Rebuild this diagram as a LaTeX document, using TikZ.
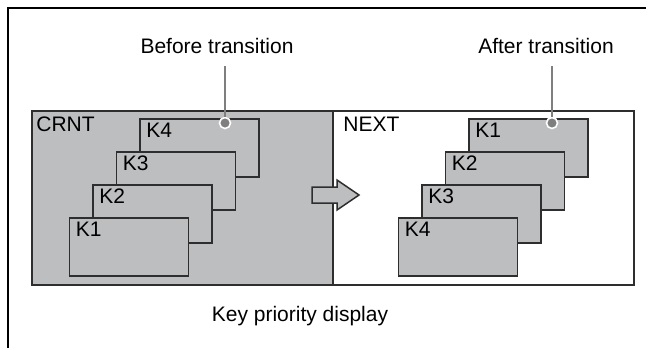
\documentclass[tikz,border=0pt]{standalone}
\usepackage{fontspec}
\setmainfont{Liberation Sans}
\definecolor{KeyGray}{HTML}{BDBEC0}
\definecolor{EdgeDark}{HTML}{2E2E2E}
\definecolor{LeadGray}{HTML}{7F7F7F}
\usetikzlibrary{positioning, arrows.meta, calc}

\begin{document}
\begin{tikzpicture}[
  x=0.5pt, y=-0.5pt,
  txt/.style={font=\fontsize{10.5pt}{12pt}\selectfont, inner sep=0pt},
  panel/.style={draw=EdgeDark, line width=1pt, fill=#1, minimum width=150.5pt,
    minimum height=87pt, inner sep=0pt, anchor=north west},
  panel/.default={white},
  kbox/.style={draw=EdgeDark, line width=0.75pt, fill=KeyGray, minimum width=59.5pt,
    minimum height=29pt, inner sep=0pt, anchor=north west,
    label={[txt, anchor=base west, xshift=3.5pt, yshift=-9.5pt]north west:#1}},
  dot/.style={circle, fill=LeadGray, draw=white, line width=0.8pt,
    minimum size=5.5pt, inner sep=0pt},
  leader/.style={draw=LeadGray, line width=1pt},
  >=Stealth
]
\useasboundingbox (0,0) rectangle (646,348);

% page corner
\draw[line width=1pt] (646,8) -- (8,8) -- (8,348);

% CRNT / NEXT panels
\node[panel=KeyGray] (crnt) at (31,110) {};
\node[panel] (next) at (332,110) {};
\node[txt, anchor=base west] (crnt_lbl) at (36,131) {CRNT};
\node[txt, anchor=base west] (next_lbl) at (343,131) {NEXT};

% before transition: K4 at the back
\node[kbox=K4] (c4) at (139,118) {};
\node[kbox=K3] (c3) at (115.5,151) {};
\node[kbox=K2] (c2) at (92,184) {};
\node[kbox=K1] (c1) at (68.5,217) {};

% after transition: K1 at the back
\node[kbox=K1] (n1) at (468,118) {};
\node[kbox=K2] (n2) at (444.5,151) {};
\node[kbox=K3] (n3) at (421,184) {};
\node[kbox=K4] (n4) at (397.5,217) {};

% block arrow between panels
\draw[draw=EdgeDark, line width=0.75pt, fill=KeyGray]
  (312,187) -- (337,187) -- (337,180) -- (359,195) -- (337,210) -- (337,203)
  -- (312,203) -- cycle;

% leaders
\node[txt, anchor=base] (before) at (217,53) {Before transition};
\node[txt, anchor=base] (after) at (546,53) {After transition};
\coordinate (before_end) at (225,66);
\coordinate (after_end) at (552,66);
\node[dot] (bdot) at (225,123) {};
\node[dot] (adot) at (552,123) {};
\draw[leader] (before_end) -- (bdot);
\draw[leader] (after_end) -- (adot);

% caption
\node[txt, anchor=base] (caption) at (300,321) {Key priority display};

\end{tikzpicture}
\end{document}
